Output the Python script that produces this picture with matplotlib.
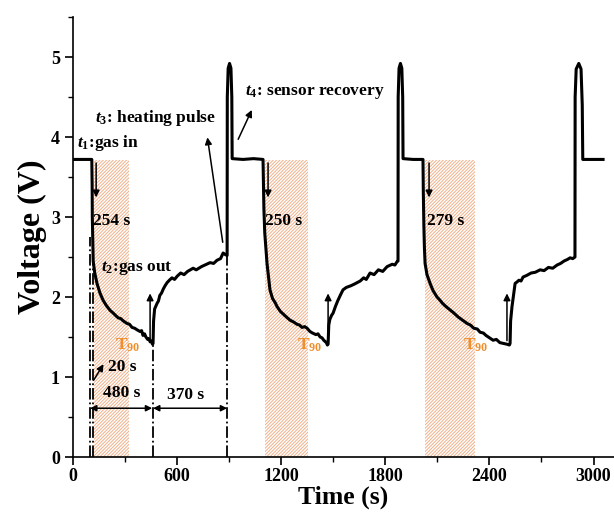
import matplotlib.pyplot as plt
from matplotlib.ticker import MultipleLocator

plt.rcParams['font.family'] = 'Liberation Serif'
plt.rcParams['font.weight'] = 'bold'
plt.rcParams['mathtext.fontset'] = 'custom'
plt.rcParams['mathtext.rm'] = 'Liberation Serif:bold'
plt.rcParams['mathtext.it'] = 'Liberation Serif:italic:bold'
plt.rcParams['mathtext.bf'] = 'Liberation Serif:bold'
plt.rcParams['hatch.linewidth'] = 0.7

HATCH_COLOR = '#F0B08A'
T90_COLOR = '#EE8E2C'

# voltage trace, one cycle per list (time in s, voltage in V)
T1 = [0, 40, 80, 108, 110, 111, 113, 116, 125, 138,
      155, 173, 190, 200, 215, 231, 245, 260, 275, 290,
      311, 325, 340, 355, 369, 385, 395, 403, 412, 420,
      430, 437, 444, 452, 458, 461, 464, 470, 484, 492,
      500, 510, 520, 530, 542, 555, 570, 585, 600, 620,
      640, 660, 692, 710, 740, 760, 790, 810, 830, 850,
      865, 878, 888, 889, 894, 902, 910, 915, 917, 980,
      1040]
V1 = [3.72, 3.72, 3.72, 3.72, 3.40, 3.00, 2.75, 2.45, 2.30, 2.17,
      2.05, 1.96, 1.90, 1.87, 1.83, 1.80, 1.77, 1.74, 1.73, 1.70,
      1.67, 1.66, 1.62, 1.61, 1.59, 1.57, 1.58, 1.52, 1.54, 1.50,
      1.47, 1.48, 1.44, 1.45, 1.41, 1.42, 1.70, 1.85, 1.92, 1.95,
      2.02, 2.05, 2.10, 2.14, 2.18, 2.21, 2.24, 2.22, 2.26, 2.30,
      2.28, 2.32, 2.36, 2.34, 2.38, 2.40, 2.43, 2.42, 2.46, 2.48,
      2.55, 2.53, 2.52, 4.50, 4.86, 4.92, 4.86, 4.50, 3.73, 3.72,
      3.73]

T2 = [1095, 1097, 1100, 1105, 1112, 1118, 1128, 1135, 1150, 1165,
      1176, 1195, 1210, 1230, 1251, 1270, 1290, 1305, 1320, 1335,
      1349, 1365, 1380, 1400, 1412, 1424, 1435, 1445, 1460, 1466,
      1470, 1474, 1480, 1490, 1499, 1512, 1525, 1540, 1556, 1575,
      1600, 1620, 1637, 1655, 1675, 1690, 1712, 1735, 1760, 1785,
      1810, 1840, 1855, 1867, 1873, 1874, 1879, 1887, 1895, 1900,
      1902, 1960]
V2 = [3.72, 3.45, 3.10, 2.80, 2.60, 2.42, 2.22, 2.09, 1.98, 1.93,
      1.88, 1.82, 1.79, 1.75, 1.71, 1.69, 1.66, 1.65, 1.62, 1.63,
      1.61, 1.57, 1.55, 1.53, 1.54, 1.50, 1.49, 1.46, 1.43, 1.40,
      1.41, 1.65, 1.72, 1.77, 1.80, 1.88, 1.95, 2.02, 2.09, 2.12,
      2.14, 2.16, 2.18, 2.20, 2.24, 2.22, 2.30, 2.28, 2.34, 2.32,
      2.38, 2.41, 2.40, 2.44, 2.45, 4.50, 4.86, 4.92, 4.86, 4.50,
      3.73, 3.72]

T3 = [2017, 2019, 2022, 2025, 2029, 2040, 2058, 2075, 2098, 2115,
      2130, 2150, 2173, 2195, 2220, 2245, 2271, 2290, 2310, 2330,
      2346, 2365, 2380, 2400, 2421, 2440, 2460, 2480, 2501, 2515,
      2519, 2522, 2530, 2548, 2560, 2570, 2582, 2594, 2615, 2640,
      2665, 2692, 2715, 2740, 2765, 2790, 2810, 2830, 2850, 2865,
      2880, 2893, 2894, 2900, 2915, 2928, 2935, 2938, 3000, 3055]
V3 = [3.72, 3.30, 2.90, 2.63, 2.42, 2.28, 2.17, 2.08, 2.00, 1.96,
      1.92, 1.88, 1.84, 1.80, 1.75, 1.71, 1.67, 1.65, 1.61, 1.60,
      1.56, 1.55, 1.52, 1.49, 1.46, 1.47, 1.43, 1.42, 1.41, 1.40,
      1.42, 1.70, 1.88, 2.17, 2.19, 2.21, 2.20, 2.25, 2.27, 2.30,
      2.31, 2.34, 2.33, 2.37, 2.36, 2.40, 2.42, 2.45, 2.47, 2.49,
      2.48, 2.50, 4.50, 4.85, 4.92, 4.85, 4.40, 3.72, 3.72, 3.72]

# shaded T90 windows (start, end) and their height
T90_SPANS = [(118, 322), (1108, 1356), (2031, 2314)]
T90_TOP = 3.71
T90_LABEL_X = [242, 1291, 2248]

# response time labels and arrows
RESP_LABELS = ['254 s', '250 s', '279 s']
RESP_X = [133, 1124, 2052]
RESP_TEXT_X = [113, 1107, 2040]
RECOV_X = [444, 1470, 2501]
RECOV_Y0 = [1.43, 1.40, 1.42]

fig = plt.figure(figsize=(6.14, 5.21), dpi=100)
ax = fig.add_axes([0.119, 0.1228, 0.881, 0.8445])

for x0, x1 in T90_SPANS:
    ax.fill_between([x0, x1], 0, T90_TOP, facecolor='none', edgecolor=HATCH_COLOR,
                    hatch='//////////', linewidth=0)

time = T1 + T2 + T3
volt = V1 + V2 + V3
ax.plot(time, volt, color='black', lw=2.2, solid_joinstyle='round')

# dash-dot guide lines
for xv, top in [(98, 2.75), (113, 2.75), (461, 1.42), (890, 2.52)]:
    ax.plot([xv, xv], [0, top], color='black', lw=1.3, ls='-.')

arrow = dict(arrowstyle='-|>', color='black', lw=1.1, mutation_scale=10)
for xa in RESP_X:
    ax.annotate('', xy=(xa, 3.21), xytext=(xa, 3.71), arrowprops=arrow)
for xa, y0 in zip(RECOV_X, RECOV_Y0):
    ax.annotate('', xy=(xa, 2.08), xytext=(xa, y0), arrowprops=arrow)

ax.annotate('', xy=(772, 4.03), xytext=(865, 2.65), arrowprops=arrow)
ax.annotate('', xy=(1037, 4.37), xytext=(945, 3.94), arrowprops=arrow)
ax.annotate('', xy=(184, 1.19), xytext=(110, 0.93), arrowprops=arrow)

both = dict(arrowstyle='<|-|>', color='black', lw=1.1, mutation_scale=9,
            shrinkA=0, shrinkB=0)
ax.annotate('', xy=(98, 0.61), xytext=(456, 0.61), arrowprops=both)
ax.annotate('', xy=(461, 0.61), xytext=(888, 0.61), arrowprops=both)

fs = 12.5
ax.text(23, 3.92, r'$t_1$:gas in', fontsize=fs, va='center')
ax.text(127, 4.24, r'$t_3$: heating pulse', fontsize=fs, va='center')
ax.text(991, 4.56, r'$t_4$: sensor recovery', fontsize=fs, va='center')
ax.text(160, 2.36, r'$t_2$:gas out', fontsize=fs, va='center')
for lab, xt in zip(RESP_LABELS, RESP_TEXT_X):
    ax.text(xt, 2.95, lab, fontsize=fs, va='center')
for xt in T90_LABEL_X:
    ax.text(xt, 1.40, r'$\mathbf{T}_{\mathbf{90}}$', fontsize=fs, va='center',
            color=T90_COLOR)
ax.text(202, 1.13, '20 s', fontsize=fs, va='center')
ax.text(283, 0.80, '480 s', fontsize=fs, va='center', ha='center')
ax.text(651, 0.78, '370 s', fontsize=fs, va='center', ha='center')

ax.set_xlim(0, 3118)
ax.set_ylim(0, 5.5)
ax.xaxis.set_major_locator(MultipleLocator(600))
ax.xaxis.set_minor_locator(MultipleLocator(300))
ax.yaxis.set_major_locator(MultipleLocator(1))
ax.yaxis.set_minor_locator(MultipleLocator(0.5))
ax.spines['top'].set_visible(False)
ax.spines['right'].set_visible(False)
for s in ['left', 'bottom']:
    ax.spines[s].set_linewidth(1.2)
ax.tick_params(which='major', direction='out', length=6, width=1.2, labelsize=13)
ax.tick_params(which='minor', direction='out', length=3.5, width=1.0)
ax.tick_params(axis='x', pad=2)

ax.set_xlabel('Time (s)', fontsize=18.5, fontweight='bold', labelpad=0)
ax.set_ylabel('Voltage (V)', fontsize=23, fontweight='bold', labelpad=3)

fig.savefig('out.png', dpi=100)
